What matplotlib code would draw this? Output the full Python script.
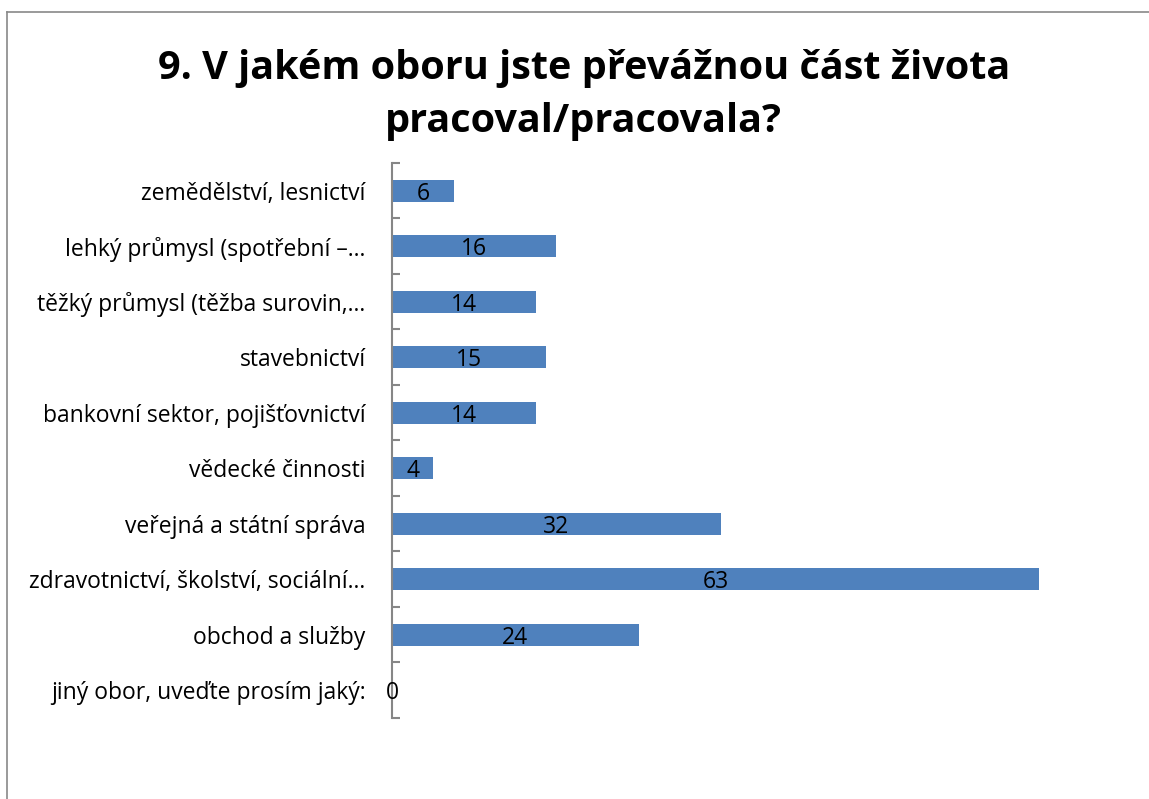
import matplotlib.pyplot as plt
import numpy as np

categories = ["zemědělství, lesnictví", "lehký průmysl (spotřební –…",
              "těžký průmysl (těžba surovin,…", "stavebnictví",
              "bankovní sektor, pojišťovnictví", "vědecké činnosti",
              "veřejná a státní správa", "zdravotnictví, školství, sociální…",
              "obchod a služby", "jiný obor, uveďte prosím jaký:"]
values = [6, 16, 14, 15, 14, 4, 32, 63, 24, 0]

plt.rcParams['font.family'] = ['Open Sans', 'DejaVu Sans']

fig = plt.figure(figsize=(11.49, 7.99), dpi=100)
ax = fig.add_axes([0.3412, 0.1014, 0.6258, 0.6946])

y = np.arange(len(categories))
ax.barh(y, values, height=0.4, color='#4F81BD')
for i, v in enumerate(values):
    ax.text(v / 2, i + 0.05, str(v), ha='center', va='center', fontsize=16.5)

ax.set_xlim(0, 70)
ax.set_ylim(len(categories) - 0.5, -0.5)
ax.set_yticks(np.arange(-0.5, len(categories)), labels=[])
ax.set_yticks(y, labels=categories, minor=True)
ax.tick_params(axis='y', which='major', direction='in', length=6, width=1.5, color='#868686')
ax.tick_params(axis='y', which='minor', length=0, pad=19, labelsize=16.5)
ax.set_xticks([])
for s in ['top', 'right', 'bottom']:
    ax.spines[s].set_visible(False)
ax.spines['left'].set_color('#868686')
ax.spines['left'].set_linewidth(1.5)

fig.text(0.508, 0.881, "9. V jakém oboru jste převážnou část života\npracoval/pracovala?",
         ha='center', va='center', fontsize=28.5, fontweight='bold', linespacing=1.45)

# outer chart frame (left and top edges visible)
fig.add_artist(plt.Line2D([0.0065, 0.0065], [0, 0.985], color='#898989', lw=1.2))
fig.add_artist(plt.Line2D([0.0065, 1], [0.985, 0.985], color='#898989', lw=1.2))

plt.savefig('out.png', dpi=100)
